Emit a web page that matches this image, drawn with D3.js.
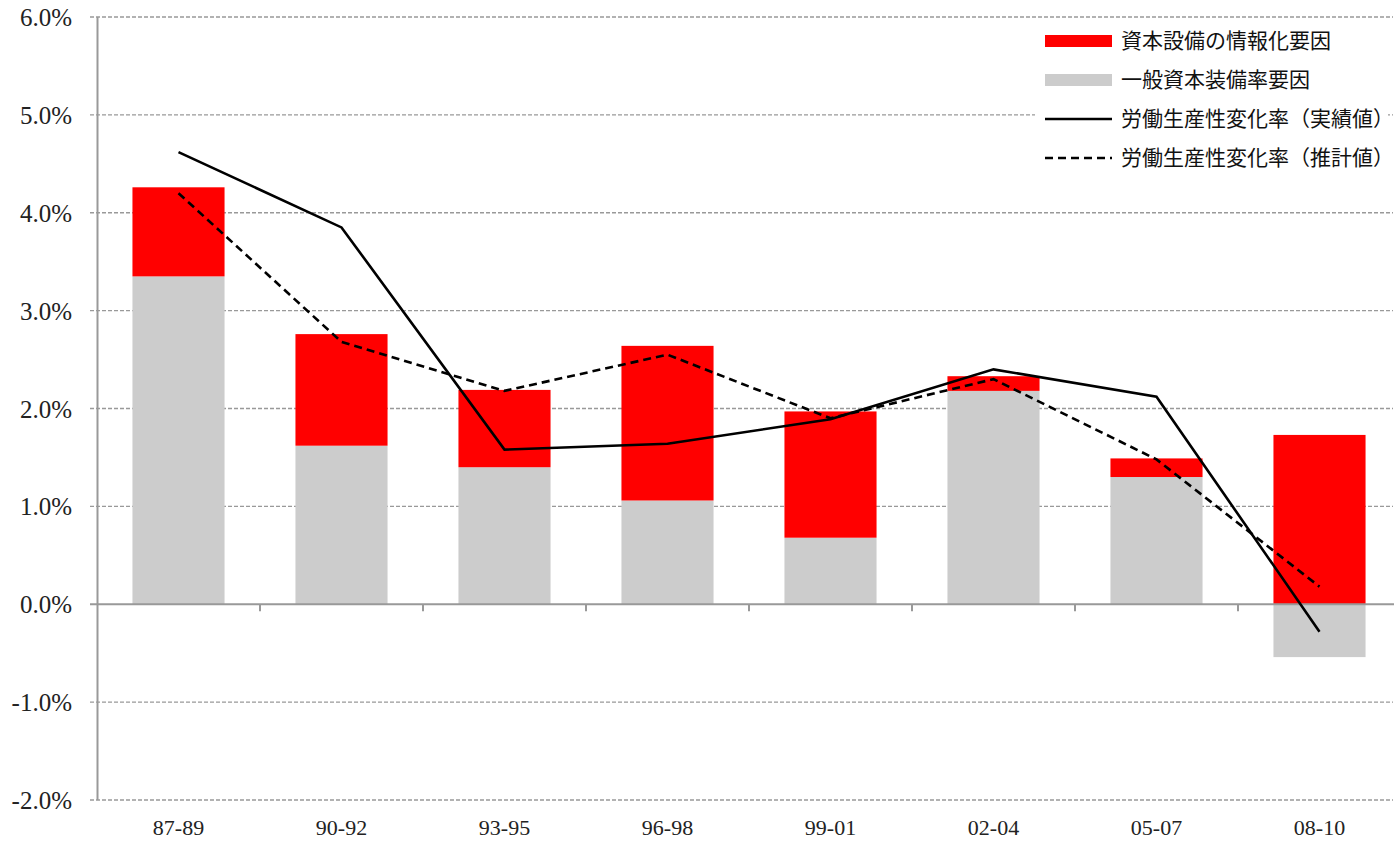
<!DOCTYPE html>
<html>
<head>
<meta charset="utf-8">
<script src="https://cdn.jsdelivr.net/npm/d3@7/dist/d3.min.js"></script>
<style>
  body { margin: 0; background: #fff; }
</style>
</head>
<body>
<script>
var categories = ["87-89", "90-92", "93-95", "96-98", "99-01", "02-04", "05-07", "08-10"];
var itFactor = [0.91, 1.14, 0.79, 1.58, 1.29, 0.15, 0.19, 1.73];
var generalFactor = [3.35, 1.62, 1.40, 1.06, 0.68, 2.18, 1.30, -0.54];
var actual = [4.62, 3.85, 1.58, 1.64, 1.89, 2.40, 2.12, -0.28];
var estimate = [4.20, 2.68, 2.18, 2.55, 1.90, 2.30, 1.48, 0.18];
var yTicks = [-2, -1, 0, 1, 2, 3, 4, 5, 6];
var legendLabels = ["資本設備の情報化要因", "一般資本装備率要因", "労働生産性変化率（実績値）", "労働生産性変化率（推計値）"];

var serif = "Liberation Serif";
var W = 1394, H = 841;
var svg = d3.select("body")
  .append("svg")
    .attr("width", W)
    .attr("height", H);

var x = d3.scaleBand()
    .domain(categories)
    .range([97, 1401])
    .paddingInner(0.435)
    .paddingOuter(0.2175);

var y = d3.scaleLinear()
    .domain([-2, 6])
    .range([800, 17]);

// gridlines
svg.selectAll("line.grid")
    .data(yTicks.filter(function(d) { return d !== 0; }))
  .enter().append("line")
    .attr("class", "grid")
    .attr("x1", 90)
    .attr("x2", 1393)
    .attr("y1", function(d) { return y(d); })
    .attr("y2", function(d) { return y(d); })
    .attr("stroke", "#999")
    .attr("stroke-width", 1.3)
    .attr("stroke-dasharray", "4,2");

// y labels
svg.selectAll("text.ylab")
    .data(yTicks)
  .enter().append("text")
    .attr("x", 72)
    .attr("y", function(d) { return y(d) + 9; })
    .attr("text-anchor", "end")
    .attr("font-family", serif)
    .attr("font-size", 25)
    .attr("fill", "#222")
    .text(function(d) { return d.toFixed(1) + "%"; });

// bars
var barData = categories.map(function(c, i) {
  return { cat: c, g: generalFactor[i], it: itFactor[i] };
});

svg.selectAll("rect.gen")
    .data(barData)
  .enter().append("rect")
    .attr("x", function(d) { return x(d.cat); })
    .attr("width", x.bandwidth())
    .attr("y", function(d) { return y(Math.max(0, d.g)); })
    .attr("height", function(d) { return Math.abs(y(d.g) - y(0)); })
    .attr("fill", "#cccccc");

svg.selectAll("rect.it")
    .data(barData)
  .enter().append("rect")
    .attr("x", function(d) { return x(d.cat); })
    .attr("width", x.bandwidth())
    .attr("y", function(d) { var b = Math.max(0, d.g); return y(b + d.it); })
    .attr("height", function(d) { var b = Math.max(0, d.g); return y(b) - y(b + d.it); })
    .attr("fill", "#ff0000");

// y axis line
svg.append("line")
    .attr("x1", 97.5).attr("x2", 97.5)
    .attr("y1", y(6)).attr("y2", y(-2))
    .attr("stroke", "#999")
    .attr("stroke-width", 2);

// zero line with ticks
svg.append("line")
    .attr("x1", 90).attr("x2", 1394)
    .attr("y1", y(0)).attr("y2", y(0))
    .attr("stroke", "#999")
    .attr("stroke-width", 2);

svg.selectAll("line.xtick")
    .data(categories.slice(1))
  .enter().append("line")
    .attr("x1", function(d) { return x(d) - x.step() * x.paddingInner() / 2; })
    .attr("x2", function(d) { return x(d) - x.step() * x.paddingInner() / 2; })
    .attr("y1", y(0))
    .attr("y2", y(0) + 7)
    .attr("stroke", "#999")
    .attr("stroke-width", 2);

// x labels
svg.selectAll("text.xlab")
    .data(categories)
  .enter().append("text")
    .attr("x", function(d) { return x(d) + x.bandwidth() / 2; })
    .attr("y", 835)
    .attr("text-anchor", "middle")
    .attr("font-family", serif)
    .attr("font-size", 22)
    .attr("fill", "#222")
    .text(function(d) { return d; });

// lines
var line = d3.line()
    .x(function(d, i) { return x(categories[i]) + x.bandwidth() / 2; })
    .y(function(d) { return y(d); });

svg.append("path")
    .datum(actual)
    .attr("d", line)
    .attr("fill", "none")
    .attr("stroke", "#000")
    .attr("stroke-width", 2.6);

svg.append("path")
    .datum(estimate)
    .attr("d", line)
    .attr("fill", "none")
    .attr("stroke", "#000")
    .attr("stroke-width", 2.6)
    .attr("stroke-dasharray", "8,5");

// legend
var lg = svg.append("g");
lg.append("rect")
    .attr("x", 1035).attr("y", 22)
    .attr("width", 353).attr("height", 155)
    .attr("fill", "#fff");

var items = lg.selectAll("g.item")
    .data(legendLabels)
  .enter().append("g")
    .attr("transform", function(d, i) { return "translate(0," + (41 + i * 39) + ")"; });

items.each(function(d, i) {
  var g = d3.select(this);
  if (i === 0 || i === 1) {
    g.append("rect")
      .attr("x", 1045).attr("y", -6)
      .attr("width", 67).attr("height", 12)
      .attr("fill", i === 0 ? "#ff0000" : "#cccccc");
  } else {
    g.append("line")
      .attr("x1", 1045).attr("x2", 1112)
      .attr("y1", 0).attr("y2", 0)
      .attr("stroke", "#000")
      .attr("stroke-width", 2.6)
      .attr("stroke-dasharray", i === 3 ? "8,5" : null);
  }
  g.append("text")
    .attr("x", 1121)
    .attr("y", 7)
    .attr("font-family", "Noto Sans CJK JP")
    .attr("font-size", 21)
    .attr("fill", "#111")
    .text(d);
});
</script>
</body>
</html>
